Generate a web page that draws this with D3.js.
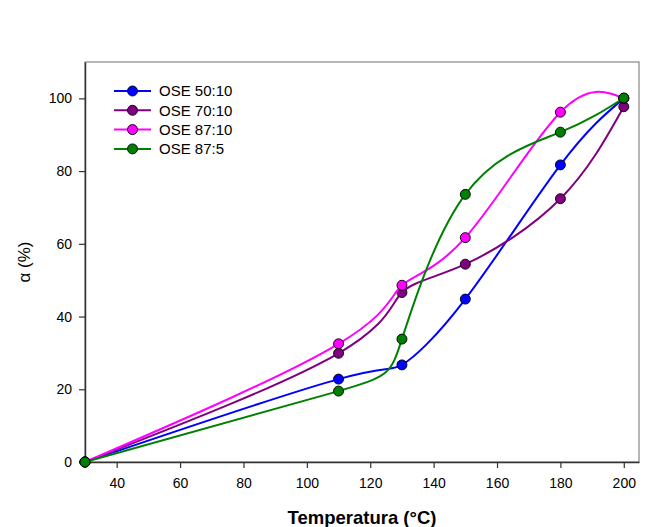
<!DOCTYPE html>
<html>
<head>
<meta charset="utf-8">
<script src="https://cdn.jsdelivr.net/npm/d3@7"></script>
<style>
  html, body { margin: 0; padding: 0; background: #fff; }
  svg { display: block; }
  text { font-family: "Liberation Sans", Arial, sans-serif; fill: #000; }
</style>
</head>
<body>
<div id="chart"></div>
<script>
// Temperature (°C) at which each sample was measured
const temperatures = [30, 110, 130, 150, 180, 200];

// Conversion α (%) for each formulation
const ose5010 = [0, 22.8, 26.7, 44.8, 81.7, 100];
const ose7010 = [0, 29.9, 46.6, 54.4, 72.4, 97.7];
const ose8710 = [0, 32.5, 48.6, 61.7, 96.2, 100];
const ose875  = [0, 19.5, 33.8, 73.6, 90.7, 100.1];

const seriesNames = ["OSE 50:10", "OSE 70:10", "OSE 87:10", "OSE 87:5"];
const seriesColors = ["#0000ff", "#800080", "#ff00ff", "#008000"];
const seriesValues = [ose5010, ose7010, ose8710, ose875];

const xTicks = [40, 60, 80, 100, 120, 140, 160, 180, 200];
const yTicks = [0, 20, 40, 60, 80, 100];

const width = 654, height = 527;
const plot = { left: 85, right: 639, top: 62, bottom: 462 };

const x = d3.scaleLinear().domain([30, 204.8]).range([plot.left, plot.right]);
const y = d3.scaleLinear().domain([0, 110]).range([plot.bottom, plot.top]);

const svg = d3.select("#chart").append("svg")
  .attr("width", width).attr("height", height);

svg.append("rect").attr("width", width).attr("height", height).attr("fill", "#fff");

// Plot frame
svg.append("rect")
  .attr("x", plot.left).attr("y", plot.top)
  .attr("width", plot.right - plot.left).attr("height", plot.bottom - plot.top)
  .attr("fill", "none").attr("stroke", "#6e6e6e").attr("stroke-width", 1);

// Axes
const xAxis = svg.append("g")
  .attr("transform", `translate(0,${plot.bottom})`)
  .call(d3.axisBottom(x).tickValues(xTicks).tickSize(6).tickPadding(10).tickSizeOuter(0));
const yAxis = svg.append("g")
  .attr("transform", `translate(${plot.left},0)`)
  .call(d3.axisLeft(y).tickValues(yTicks).tickSize(6).tickPadding(7).tickSizeOuter(0));

[xAxis, yAxis].forEach(g => {
  g.select(".domain").attr("stroke", "#333").attr("stroke-width", 1.5);
  g.selectAll(".tick line").attr("stroke", "#333").attr("stroke-width", 1.2);
  g.selectAll(".tick text")
    .style("font-family", '"Liberation Sans", Arial, sans-serif')
    .style("font-size", "14px").attr("fill", "#000");
});

// Axis titles
svg.append("text")
  .attr("x", (plot.left + plot.right) / 2).attr("y", 524)
  .attr("text-anchor", "middle")
  .style("font-size", "18.5px").style("font-weight", "bold")
  .text("Temperatura (°C)");

svg.append("text")
  .attr("transform", `translate(30,${(plot.top + plot.bottom) / 2}) rotate(-90)`)
  .attr("text-anchor", "middle")
  .style("font-size", "17px")
  .text("α (%)");

// Series: parametric natural spline through the measured points
const line = d3.line()
  .x((d, i) => x(temperatures[i]))
  .y(d => y(d))
  .curve(d3.curveNatural);

seriesValues.forEach((vals, k) => {
  const g = svg.append("g");
  g.append("path")
    .attr("d", line(vals))
    .attr("fill", "none")
    .attr("stroke", seriesColors[k])
    .attr("stroke-width", 2);
  g.selectAll("circle").data(vals).join("circle")
    .attr("cx", (d, i) => x(temperatures[i]))
    .attr("cy", d => y(d))
    .attr("r", 5)
    .attr("fill", seriesColors[k])
    .attr("stroke", "#000")
    .attr("stroke-width", 0.9);
});

// Legend
const legend = svg.append("g").attr("transform", "translate(114,91)");
seriesNames.forEach((name, k) => {
  const row = legend.append("g").attr("transform", `translate(0,${k * 19.3})`);
  row.append("line")
    .attr("x1", 0).attr("x2", 37).attr("y1", 0).attr("y2", 0)
    .attr("stroke", seriesColors[k]).attr("stroke-width", 2);
  row.append("circle")
    .attr("cx", 18.5).attr("cy", 0).attr("r", 5)
    .attr("fill", seriesColors[k]).attr("stroke", "#000").attr("stroke-width", 0.9);
  row.append("text")
    .attr("x", 45).attr("y", 0).attr("dy", "0.36em")
    .style("font-size", "15px")
    .text(name);
});
</script>
</body>
</html>
